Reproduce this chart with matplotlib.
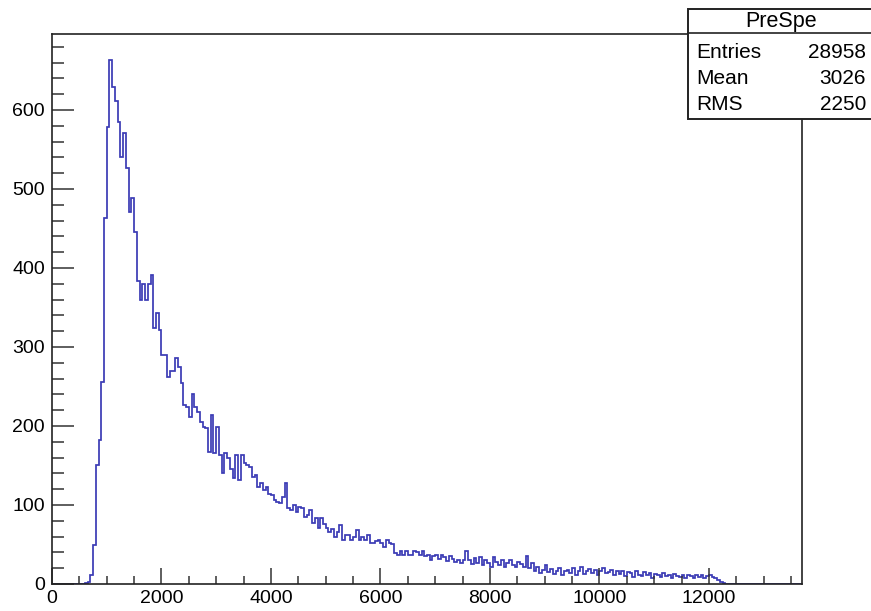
import numpy as np
import matplotlib
matplotlib.use("Agg")
import matplotlib.pyplot as plt
from matplotlib.patches import Rectangle

# ---------------- data ----------------
bin_width = 50
x_max = 13700
first_bin_low = 600          # lower edge of first listed bin
counts_nonzero = [
    1, 3, 12, 49, 151, 182, 256, 463, 579,                     # 600-1050
    663, 629, 611, 585, 540, 571, 527, 471, 489, 445, 383,     # 1050-1600
    359, 380, 360, 380, 391, 324, 343, 321, 290, 290,          # 1600-2100
    262, 269, 269, 286, 275, 254, 227, 224, 212, 241,          # 2100-2600
    224, 218, 205, 199, 197, 167, 214, 166, 199, 163,          # 2600-3100
    140, 166, 160, 145, 134, 163, 132, 163, 153, 150,          # 3100-3600
    148, 136, 138, 123, 128, 119, 123, 114, 113, 106,          # 3600-4100
    104, 102, 110, 128, 96, 94, 100, 91, 98, 96,               # 4100-4600
    85, 87, 94, 77, 83, 71, 83, 76, 71, 66,                    # 4600-5100
    70, 60, 66, 75, 56, 62, 62, 56, 60, 68,                    # 5100-5600
    56, 60, 56, 62, 52, 52, 55, 56, 52, 47,                    # 5600-6100
    56, 52, 50, 39, 37, 42, 37, 42, 37, 37,                    # 6100-6600
    42, 40, 37, 42, 35, 37, 30, 36, 37, 32,                    # 6600-7100
    37, 34, 29, 35, 32, 28, 31, 27, 30, 42,                    # 7100-7600
    30, 25, 33, 27, 34, 24, 30, 26, 22, 34,                    # 7600-8100
    28, 24, 31, 22, 26, 30, 24, 22, 28, 25,                    # 8100-8600
    22, 35, 20, 26, 16, 22, 14, 18, 24, 15,                    # 8600-9100
    19, 13, 17, 20, 12, 16, 18, 14, 20, 11,                    # 9100-9600
    17, 22, 13, 17, 19, 14, 18, 12, 16, 20,                    # 9600-10100
    14, 15, 18, 11, 16, 13, 17, 10, 15, 14,                    # 10100-10600
    9, 16, 12, 10, 15, 11, 14, 8, 13, 12,                      # 10600-11100
    9, 14, 10, 12, 8, 13, 10, 9, 12, 8,                        # 11100-11600
    11, 10, 7, 12, 9, 11, 8, 10, 12, 9,                        # 11600-12100
    7, 5, 3, 1,                                                # 12100-12300
]
hist_name = "PreSpe"
stat_labels = ["Entries", "Mean", "RMS"]
stat_values = ["28958", "3026", "2250"]

x_major = [0, 2000, 4000, 6000, 8000, 10000, 12000]
y_major = [0, 100, 200, 300, 400, 500, 600]

# full histogram array
n_bins = x_max // bin_width
counts = np.zeros(n_bins)
i0 = first_bin_low // bin_width
counts[i0:i0 + len(counts_nonzero)] = counts_nonzero
edges = np.arange(n_bins + 1) * bin_width

# ---------------- figure ----------------
W, H = 871, 611
fig = plt.figure(figsize=(W / 100, H / 100), dpi=100)
plt.rcParams['font.family'] = ['Liberation Sans', 'DejaVu Sans']

L, R, T, B = 52, 802, 34, 584
ax = fig.add_axes([L / W, (H - B) / H, (R - L) / W, (B - T) / H])
ax.stairs(counts, edges, color='#3b3bb5', lw=1.25)

ax.set_xlim(0, x_max)
ax.set_ylim(0, max(counts_nonzero) * 1.05)

ax.set_xticks(x_major)
ax.set_xticks(np.arange(0, x_max + 1, 500), minor=True)
ax.set_yticks(y_major)
ax.set_yticks(np.arange(0, 700, 20), minor=True)
ax.set_xticklabels([str(v) for v in x_major])
ax.set_yticklabels([str(v) for v in y_major])

ax.tick_params(axis='x', which='major', direction='in', length=11.5, width=1.1,
               color='#333333', labelsize=14, pad=4)
ax.tick_params(axis='x', which='minor', direction='in', length=5.8, width=1.1,
               color='#333333')
ax.tick_params(axis='y', which='major', direction='in', length=15.8, width=1.1,
               color='#333333', labelsize=14, pad=5)
ax.tick_params(axis='y', which='minor', direction='in', length=8.6, width=1.1,
               color='#333333')
for s in ax.spines.values():
    s.set_linewidth(1.2)
    s.set_color('#222222')

# ---------------- stats box ----------------
ov = fig.add_axes([0, 0, 1, 1])
ov.set_xlim(0, W)
ov.set_ylim(H, 0)
ov.axis('off')
bx0, bx1, by0, by1 = 688, 880, 9, 119
ov.add_patch(Rectangle((bx0, by0), bx1 - bx0, by1 - by0, facecolor='white',
                       edgecolor='#222222', lw=1.4, zorder=5))
ov.plot([bx0, bx1], [33, 33], color='#222222', lw=1.2, zorder=6)
ov.text(781, 21, hist_name, ha='center', va='center',
        fontsize=15.5, zorder=7)
rows_y = [53, 79, 104]
for lab, val, yy in zip(stat_labels, stat_values, rows_y):
    ov.text(696, yy, lab, ha='left', va='center', fontsize=15, zorder=7)
    ov.text(866, yy, val, ha='right', va='center', fontsize=15, zorder=7)

fig.savefig('out.png', dpi=100)
